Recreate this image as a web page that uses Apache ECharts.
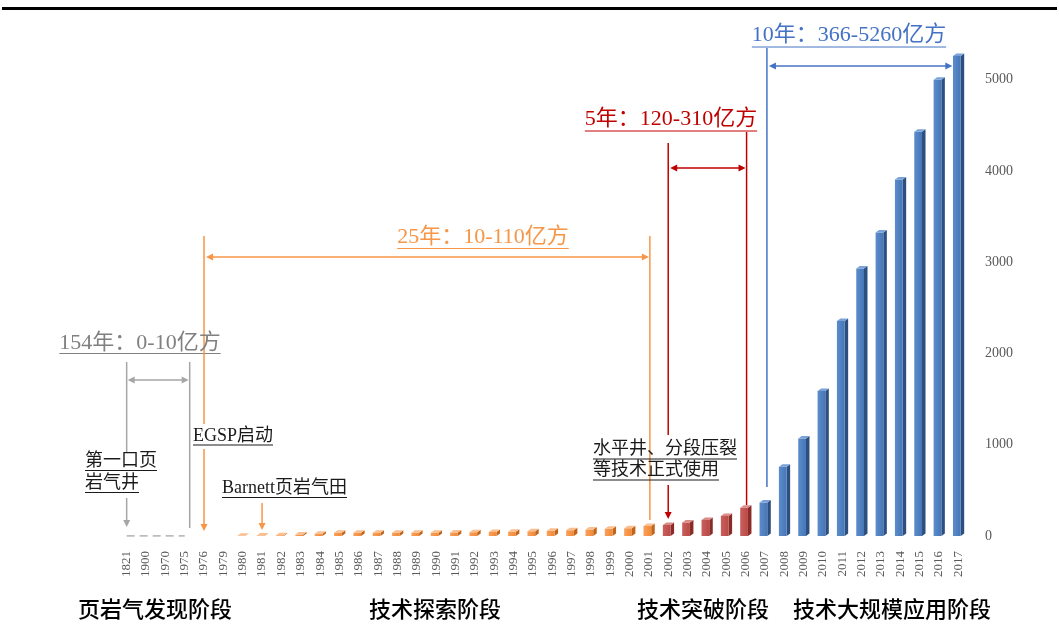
<!DOCTYPE html>
<html>
<head>
<meta charset="utf-8">
<title>页岩气产量发展阶段</title>
<script src="https://cdn.jsdelivr.net/npm/echarts@6/dist/echarts.min.js"></script>
<style>
  html, body { margin: 0; padding: 0; background: #ffffff; }
  #chart { width: 1059px; height: 631px; }
</style>
</head>
<body>
<div id="chart"></div>
<script>
// ---- data (亿方) ----
const years = [
  '1821', '1900', '1970', '1975', '1976', '1979',
  '1980', '1981', '1982', '1983', '1984', '1985', '1986', '1987', '1988', '1989',
  '1990', '1991', '1992', '1993', '1994', '1995', '1996', '1997', '1998', '1999',
  '2000', '2001', '2002', '2003', '2004', '2005', '2006', '2007', '2008', '2009',
  '2010', '2011', '2012', '2013', '2014', '2015', '2016', '2017'
];
// 1821–1975: discovery stage, output along the baseline
const discoveryYears = ['1821', '1900', '1970', '1975'];
const discoveryOutput = [0, 0, 0, 0];
// 1980–2001: technology exploration stage
const explorationYears = [
  '1980', '1981', '1982', '1983', '1984', '1985', '1986', '1987', '1988', '1989', '1990',
  '1991', '1992', '1993', '1994', '1995', '1996', '1997', '1998', '1999', '2000', '2001'
];
const explorationOutput = [
  4, 6, 9, 17, 25, 35, 35, 35, 35, 35, 35,
  37, 40, 43, 47, 51, 57, 62, 70, 80, 86, 110
];
// 2002–2006: technology breakthrough stage
const breakthroughYears = ['2002', '2003', '2004', '2005', '2006'];
const breakthroughOutput = [120, 148, 175, 220, 310];
// 2007–2017: large-scale application stage
const scaleYears = ['2007', '2008', '2009', '2010', '2011', '2012', '2013', '2014', '2015', '2016', '2017'];
const scaleOutput = [366, 760, 1068, 1590, 2356, 2930, 3326, 3905, 4430, 5000, 5260];
const yTicks = { min: 0, max: 5500, interval: 1000 };

const stageNames = ['页岩气发现阶段', '技术探索阶段', '技术突破阶段', '技术大规模应用阶段'];

// ---- helpers ----
const SERIF = '"Liberation Serif", "Noto Sans CJK SC", serif';
const CJK = '"Noto Sans CJK SC", sans-serif';

function toPairs(cats, vals) {
  return cats.map((c, i) => [years.indexOf(c), vals[i]]);
}

// a column with a front face, a darker right side and a lighter top face
function bar3D(front, frontDark, side, topFace) {
  return function (params, api) {
    const v = api.value(1);
    const top = api.coord([api.value(0), v]);
    const base = api.coord([api.value(0), 0]);
    const w = api.size([1, 0])[0] * 0.4;
    const dx = 3.5, dy = 2.5;
    const x0 = top[0] - w / 2 - 1.5;
    const x1 = x0 + w;
    const yT = top[1], yB = base[1];
    return {
      type: 'group',
      children: [
        {
          type: 'polygon',
          shape: { points: [[x1, yT], [x1 + dx, yT - dy], [x1 + dx, yB - dy], [x1, yB]] },
          style: { fill: side }
        },
        {
          type: 'rect',
          shape: { x: x0, y: yT, width: w, height: Math.max(yB - yT, 0) },
          style: {
            fill: new echarts.graphic.LinearGradient(0, 0, 1, 0, [
              { offset: 0, color: front }, { offset: 1, color: frontDark }
            ])
          }
        },
        {
          type: 'polygon',
          shape: { points: [[x0, yT], [x0 + dx, yT - dy], [x1 + dx, yT - dy], [x1, yT]] },
          style: { fill: topFace }
        }
      ]
    };
  };
}

const chart = echarts.init(document.getElementById('chart'), null, { renderer: 'canvas' });

const option = {
  animation: false,
  backgroundColor: '#ffffff',
  grid: { left: 117, right: 91, top: 34, bottom: 95 },
  xAxis: {
    type: 'category',
    data: years,
    boundaryGap: true,
    axisLine: { show: false },
    axisTick: { show: false },
    axisLabel: {
      interval: 0,
      rotate: 90,
      margin: 15,
      color: '#595959',
      fontFamily: SERIF,
      fontSize: 13
    }
  },
  yAxis: {
    type: 'value',
    position: 'right',
    min: yTicks.min,
    max: yTicks.max,
    interval: yTicks.interval,
    axisLine: { show: false },
    axisTick: { show: false },
    splitLine: { show: false },
    axisLabel: {
      showMaxLabel: false,
      margin: 17,
      color: '#595959',
      fontFamily: SERIF,
      fontSize: 14,
      formatter: function (v) { return String(v); }
    }
  },
  series: [
    {
      name: '发现阶段',
      type: 'line',
      data: toPairs(discoveryYears, discoveryOutput),
      symbol: 'none',
      lineStyle: { color: '#A6A6A6', width: 1.5, type: [8, 5] },
      z: 2
    },
    {
      name: '技术探索',
      type: 'custom',
      data: toPairs(explorationYears, explorationOutput),
      encode: { x: 0, y: 1 },
      renderItem: bar3D('#F9A05A', '#F08A38', '#C0651E', '#FBBE8C'),
      z: 3
    },
    {
      name: '技术突破',
      type: 'custom',
      data: toPairs(breakthroughYears, breakthroughOutput),
      encode: { x: 0, y: 1 },
      renderItem: bar3D('#C9605D', '#B84A47', '#8A2B28', '#DA8A87'),
      z: 3
    },
    {
      name: '大规模应用',
      type: 'custom',
      data: toPairs(scaleYears, scaleOutput),
      encode: { x: 0, y: 1 },
      renderItem: bar3D('#5B8CCB', '#4676B6', '#2C4F80', '#79A2D8'),
      z: 3
    }
  ]
};
chart.setOption(option);

// ---- annotations ----
const measureCtx = document.createElement('canvas').getContext('2d');
function textWidth(text, size, family) {
  measureCtx.font = size + 'px ' + family;
  return measureCtx.measureText(text).width;
}
function px(year) {
  return chart.convertToPixel({ xAxisIndex: 0 }, year);
}
function seg(x1, y1, x2, y2, color, width) {
  return {
    type: 'line', silent: true, z: 10,
    shape: { x1: x1, y1: y1, x2: x2, y2: y2 },
    style: { stroke: color, lineWidth: width || 1.5 }
  };
}
function head(x, y, dir, color) {
  const L = 7, H = 3.5;
  let pts;
  if (dir === 'down') pts = [[x, y], [x - H, y - L], [x + H, y - L]];
  else if (dir === 'right') pts = [[x, y], [x - L, y - H], [x - L, y + H]];
  else pts = [[x, y], [x + L, y - H], [x + L, y + H]];
  return { type: 'polygon', silent: true, z: 11, shape: { points: pts }, style: { fill: color } };
}
// text with an underline; anchor is the left edge (or centre when centred)
function underlined(text, x, cy, uy, size, color, centred) {
  const w = textWidth(text, size, SERIF);
  const left = centred ? x - w / 2 : x;
  return [
    {
      type: 'text', silent: true, z: 12,
      x: left, y: cy,
      style: {
        text: text, fill: color, font: size + 'px ' + SERIF,
        align: 'left', textAlign: 'left',
        verticalAlign: 'middle', textVerticalAlign: 'middle'
      }
    },
    seg(left, uy, left + w, uy, color, 1)
  ];
}

const grey = '#A6A6A6', greyText = '#808080';
const orange = '#F79646', red = '#C00000', blue = '#4472C4', ink = '#1A1A1A';
const g = [];

// heavy rule along the top
g.push({ type: 'rect', silent: true, shape: { x: 2, y: 7, width: 1055, height: 3 }, style: { fill: '#000000' } });

// discovery stage: 1821–1975
const xA = px('1821'), xB = px('1975') + 5;
g.push(...underlined('154年：0-10亿方', 140, 343, 353.5, 22, greyText, true));
g.push(seg(xA, 362, xA, 452, grey), seg(xA, 498, xA, 521, grey), head(xA, 527, 'down', grey));
g.push(seg(xB, 362, xB, 528, grey));
g.push(seg(xA + 6, 380, xB - 6, 380, grey), head(xA + 1, 380, 'left', grey), head(xB - 1, 380, 'right', grey));
g.push(...underlined('第一口页', 85, 461, 470.5, 18, ink));
g.push(...underlined('岩气井', 85, 483, 492.5, 18, ink));

// exploration stage: 1976–2001
const xC = px('1976'), xD = px('2001') + 1, xE = px('1981');
g.push(...underlined('25年：10-110亿方', 483, 237, 248.5, 22, orange, true));
g.push(seg(xC, 236, xC, 424, orange), seg(xC, 449, xC, 525, orange), head(xC, 531, 'down', orange));
g.push(seg(xD, 236, xD, 520, orange));
g.push(seg(xC + 6, 257, xD - 6, 257, orange), head(xC + 2, 257, 'left', orange), head(xD - 1, 257, 'right', orange));
g.push(...underlined('EGSP启动', 193, 436, 445, 18, ink));
g.push(...underlined('Barnett页岩气田', 222, 488, 497.5, 18, ink));
g.push(seg(xE, 503, xE, 524, orange), head(xE, 530, 'down', orange));

// breakthrough stage: 2002–2006
const xF = px('2002'), xG = px('2006') + 1;
g.push(...underlined('5年：120-310亿方', 671, 119, 131, 22, red, true));
g.push(seg(xF, 143, xF, 435, red), seg(xF, 485, xF, 513, red), head(xF, 519, 'down', red));
g.push(seg(xG, 132, xG, 505, red));
g.push(seg(xF + 6, 168, xG - 6, 168, red), head(xF + 2, 168, 'left', red), head(xG - 1, 168, 'right', red));
g.push(...underlined('水平井、分段压裂', 593, 449, 459, 18, ink));
g.push(...underlined('等技术正式使用', 593, 470, 480, 18, ink));

// large-scale application stage: 2007–2017
const xH = px('2007') + 2, xI = px('2017') - 6;
g.push(...underlined('10年：366-5260亿方', 849, 35, 47, 22, blue, true));
g.push(seg(xH, 48, xH, 487, blue));
g.push(seg(xH + 6, 66, xI - 6, 66, blue), head(xH + 2, 66, 'left', blue), head(xI, 66, 'right', blue));

// stage names along the bottom
const stageCentres = [155, 435, 703, 892];
stageNames.forEach(function (name, i) {
  g.push({
    type: 'text', silent: true, z: 12,
    x: stageCentres[i], y: 609,
    style: {
      text: name, fill: '#000000', font: '500 22px ' + CJK,
      align: 'center', textAlign: 'center',
      verticalAlign: 'middle', textVerticalAlign: 'middle'
    }
  });
});

chart.setOption({ graphic: { elements: g } });
</script>
</body>
</html>
